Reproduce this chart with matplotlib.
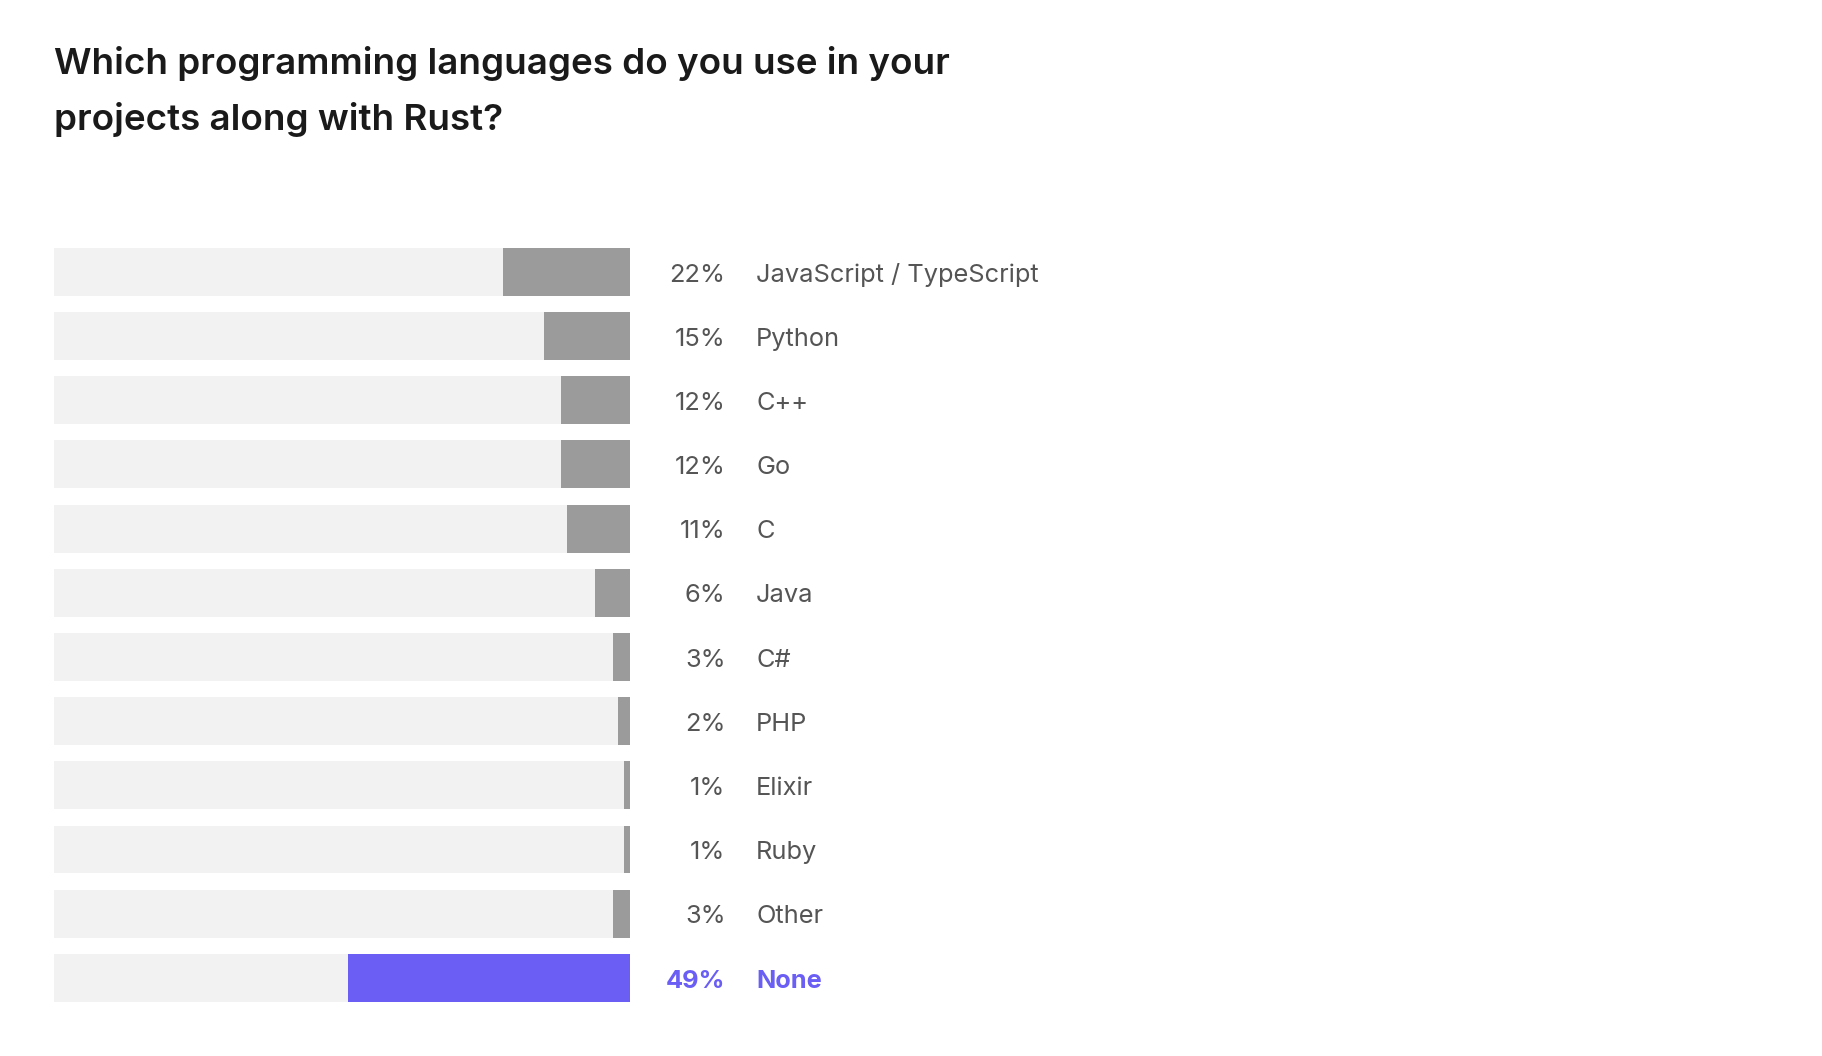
import matplotlib
matplotlib.use("Agg")
import matplotlib.pyplot as plt

languages = ["JavaScript / TypeScript", "Python", "C++", "Go", "C", "Java",
             "C#", "PHP", "Elixir", "Ruby", "Other", "None"]
shares = [22, 15, 12, 12, 11, 6, 3, 2, 1, 1, 3, 49]
highlight = "None"

GRAY_BG = "#f2f2f2"
GRAY_FILL = "#9b9b9b"
PURPLE = "#6a5ef5"
TEXT = "#555555"

plt.rcParams["font.family"] = ["Inter", "DejaVu Sans"]

fig = plt.figure(figsize=(18.22, 10.56), dpi=100)
fig.patch.set_facecolor("white")

ax = fig.add_axes([54 / 1822, 0.0435, 576 / 1822, 0.7295])
n = len(languages)
ys = list(range(n))
ax.barh(ys, [100] * n, left=0, height=0.745, color=GRAY_BG)
colors = [PURPLE if lang == highlight else GRAY_FILL for lang in languages]
ax.barh(ys, shares, left=[100 - s for s in shares], height=0.745, color=colors)

for y, lang, s in zip(ys, languages, shares):
    hl = lang == highlight
    c = PURPLE if hl else TEXT
    w = "bold" if hl else "normal"
    ax.text(116.6, y + 0.05, f"{s}%", ha="right", va="center", fontsize=18.3, color=c,
            fontweight=w, clip_on=False)
    ax.text(121.9, y + 0.05, lang, ha="left", va="center", fontsize=18.3, color=c,
            fontweight=w, clip_on=False)

ax.set_xlim(0, 100)
ax.set_ylim(n - 0.5, -0.5)
ax.axis("off")

fig.text(54 / 1822, 1 - 46 / 1056,
         "Which programming languages do you use in your\nprojects along with Rust?",
         ha="left", va="top", fontsize=26.5, fontweight="semibold", color="#1a1a1a",
         linespacing=1.76)

fig.savefig("out.png", dpi=100)
